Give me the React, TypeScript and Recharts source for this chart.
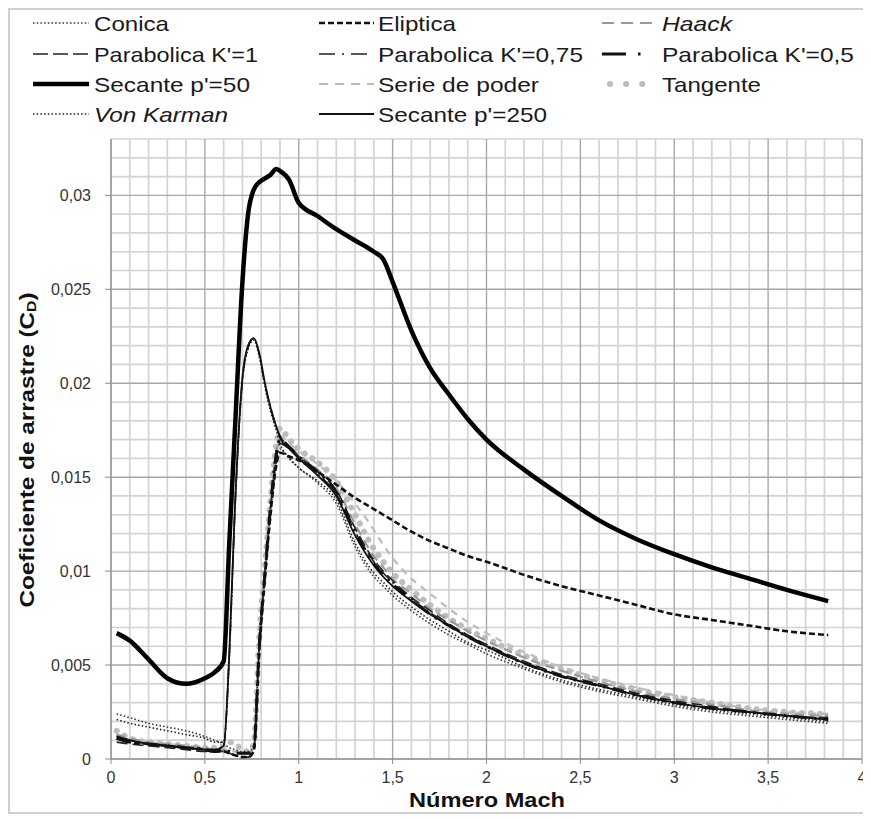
import React from "react";
import { CartesianGrid, Line, LineChart, XAxis, YAxis } from "recharts";

// Mach numbers shared by every series
const mach = [
  0.03, 0.1, 0.2, 0.3, 0.4, 0.5, 0.55, 0.6, 0.63, 0.66, 0.7, 0.73, 0.76, 0.79,
  0.82, 0.85, 0.88, 0.9, 0.95, 1.0, 1.1, 1.2, 1.3, 1.4, 1.45, 1.5, 1.6, 1.7,
  1.8, 1.9, 2.0, 2.2, 2.4, 2.6, 2.8, 3.0, 3.2, 3.4, 3.6, 3.82,
];

const conica = [
  0.0024, 0.0022, 0.0019, 0.0017, 0.0015, 0.0012, 0.001, 0.0008, 0.0006, 0.0005, 0.0004, 0.0004,
  0.0007, 0.006, 0.0098, 0.0132, 0.0158, 0.0165, 0.016,
  0.0155, 0.0147, 0.0136, 0.0113, 0.0097, 0.0092, 0.0087, 0.0079, 0.0072, 0.0066, 0.0061, 0.0056,
  0.0048, 0.0041, 0.0036, 0.0032, 0.0028, 0.0025, 0.0023, 0.0021, 0.0019,
];
const eliptica = [
  0.0011, 0.0009, 0.0008, 0.0007, 0.0006, 0.0005, 0.0004, 0.0004, 0.0003, 0.0002, 0.0001, 0.0001,
  0.0004, 0.0058, 0.0097, 0.0131, 0.0156, 0.0163, 0.0161,
  0.0159, 0.0153, 0.0146, 0.0139, 0.0133, 0.013, 0.0127, 0.0121, 0.0116, 0.0112, 0.0108, 0.0105,
  0.0098, 0.0092, 0.0087, 0.0082, 0.0077, 0.0074, 0.0071, 0.0068, 0.0066,
];
const haack = [
  0.0013, 0.0011, 0.0009, 0.0008, 0.0007, 0.0006, 0.0005, 0.0005, 0.0004, 0.0004, 0.0003, 0.0003,
  0.0006, 0.0062, 0.01, 0.0135, 0.0163, 0.017, 0.0166,
  0.0162, 0.0154, 0.0144, 0.0125, 0.0108, 0.0102, 0.0096, 0.0088, 0.008, 0.0074, 0.0068, 0.0063,
  0.0054, 0.0047, 0.0041, 0.0036, 0.0032, 0.0029, 0.0026, 0.0024, 0.0023,
];
const parabolica1 = [
  0.0009, 0.0008, 0.0007, 0.0006, 0.0005, 0.0004, 0.0004, 0.0004, 0.0003, 0.0002, 0.0001, 0.0001,
  0.0004, 0.006, 0.0099, 0.0134, 0.0161, 0.0168, 0.0165,
  0.0161, 0.0153, 0.0143, 0.0123, 0.0106, 0.01, 0.0095, 0.0086, 0.0079, 0.0072, 0.0066, 0.0061,
  0.0052, 0.0045, 0.004, 0.0035, 0.0031, 0.0028, 0.0025, 0.0023, 0.0022,
];
const parabolica075 = [
  0.0012, 0.001, 0.0008, 0.0007, 0.0006, 0.0005, 0.0005, 0.0007, 0.0055, 0.0133, 0.0202, 0.0219,
  0.0224, 0.0215, 0.0199, 0.0187, 0.0177, 0.0172, 0.0166,
  0.0161, 0.0152, 0.0141, 0.0121, 0.0105, 0.0099, 0.0094, 0.0085, 0.0078, 0.0071, 0.0066, 0.006,
  0.0051, 0.0044, 0.0039, 0.0034, 0.003, 0.0027, 0.0025, 0.0023, 0.0021,
];
const parabolica05 = [
  0.0011, 0.0009, 0.0008, 0.0007, 0.0006, 0.0005, 0.0004, 0.0005, 0.0004, 0.0003, 0.0003, 0.0003,
  0.0005, 0.0061, 0.0099, 0.0135, 0.0162, 0.017, 0.0166,
  0.0161, 0.0153, 0.0142, 0.0121, 0.0104, 0.0098, 0.0093, 0.0085, 0.0077, 0.0071, 0.0065, 0.006,
  0.0051, 0.0044, 0.0039, 0.0034, 0.003, 0.0027, 0.0025, 0.0023, 0.0021,
];
const secante50 = [
  0.0067, 0.0063, 0.0053, 0.0043, 0.004, 0.0043, 0.0046, 0.0052, 0.0115, 0.0175, 0.0254, 0.029,
  0.0303, 0.0307, 0.0309, 0.0311, 0.0314, 0.0313, 0.0308,
  0.0296, 0.0289, 0.0282, 0.0276, 0.027, 0.0266, 0.0254, 0.0228, 0.0208, 0.0194, 0.0181, 0.017,
  0.0154, 0.014, 0.0127, 0.0117, 0.0109, 0.0102, 0.0096, 0.009, 0.0084,
];
const serieDePoder = [
  0.0013, 0.0011, 0.0009, 0.0008, 0.0007, 0.0006, 0.0005, 0.0005, 0.0004, 0.0004, 0.0003, 0.0003,
  0.0006, 0.0063, 0.0101, 0.0136, 0.0164, 0.0172, 0.0168,
  0.0164, 0.0157, 0.0148, 0.0136, 0.0122, 0.0114, 0.0107, 0.0096, 0.0088, 0.008, 0.0073, 0.0067,
  0.0057, 0.0049, 0.0043, 0.0038, 0.0034, 0.003, 0.0027, 0.0025, 0.0024,
];
const tangente = [
  0.0015, 0.0011, 0.0009, 0.0008, 0.0007, 0.0006, 0.0006, 0.0007, 0.0009, 0.0008, 0.0005, 0.0004,
  0.0008, 0.0066, 0.0103, 0.0138, 0.0167, 0.0176, 0.017,
  0.0165, 0.0158, 0.0148, 0.013, 0.0112, 0.0105, 0.0099, 0.009, 0.0082, 0.0075, 0.0069, 0.0064,
  0.0055, 0.0048, 0.0042, 0.0037, 0.0033, 0.003, 0.0027, 0.0025, 0.0024,
];
const vonKarman = [
  0.0021, 0.0019, 0.0017, 0.0015, 0.0013, 0.0011, 0.0009, 0.0009, 0.0054, 0.0132, 0.0201, 0.0218,
  0.0223, 0.0214, 0.0198, 0.0185, 0.0175, 0.0168, 0.016,
  0.0155, 0.0148, 0.0138, 0.0115, 0.0099, 0.0094, 0.0089, 0.0081, 0.0074, 0.0068, 0.0062, 0.0058,
  0.0049, 0.0042, 0.0037, 0.0033, 0.0029, 0.0026, 0.0024, 0.0022, 0.002,
];
const secante250 = [
  0.0012, 0.001, 0.0008, 0.0007, 0.0006, 0.0005, 0.0005, 0.0007, 0.0056, 0.0134, 0.0203, 0.022,
  0.0224, 0.0216, 0.02, 0.0187, 0.0177, 0.0171, 0.0165,
  0.016, 0.0151, 0.014, 0.0119, 0.0103, 0.0097, 0.0092, 0.0084, 0.0077, 0.0071, 0.0065, 0.006,
  0.0051, 0.0044, 0.0039, 0.0034, 0.003, 0.0027, 0.0025, 0.0023, 0.0021,
];

const xTicks = [0, 0.5, 1, 1.5, 2, 2.5, 3, 3.5, 4];
const yTicks = [0, 0.005, 0.01, 0.015, 0.02, 0.025, 0.03];

const data = mach.map((m, i) => ({
  mach: m,
  conica: conica[i],
  eliptica: eliptica[i],
  haack: haack[i],
  parabolica1: parabolica1[i],
  parabolica075: parabolica075[i],
  parabolica05: parabolica05[i],
  secante50: secante50[i],
  serieDePoder: serieDePoder[i],
  tangente: tangente[i],
  vonKarman: vonKarman[i],
  secante250: secante250[i],
}));

type SeriesStyle = {
  key: string;
  name: string;
  color: string;
  width: number;
  dash?: string;
  legendDash?: string;
  cap?: "round" | "butt";
  italic?: boolean;
  col: number;
  row: number;
  textWidth: number;
};

// draw order: light grey first, heavy black last
const series: SeriesStyle[] = [
  { key: "serieDePoder", name: "Serie de poder", color: "#bcbcbc", width: 2.2, dash: "7 6", legendDash: "9 7", col: 1, row: 2, textWidth: 161 },
  { key: "tangente", name: "Tangente", color: "#bdbdbd", width: 6, dash: "0.1 9", legendDash: "0.1 16", cap: "round", col: 2, row: 2, textWidth: 99 },
  { key: "haack", name: "Haack", color: "#9a9a9a", width: 2.2, dash: "9 6", legendDash: "12 7", italic: true, col: 2, row: 0, textWidth: 70 },
  { key: "conica", name: "Conica", color: "#333333", width: 1.6, dash: "1.5 2.2", col: 0, row: 0, textWidth: 75 },
  { key: "vonKarman", name: "Von Karman", color: "#222222", width: 1.6, dash: "1.5 2.2", italic: true, col: 0, row: 3, textWidth: 134 },
  { key: "parabolica1", name: "Parabolica K'=1", color: "#222222", width: 1.6, dash: "11 5", legendDash: "15 5", col: 0, row: 1, textWidth: 164 },
  { key: "parabolica075", name: "Parabolica K'=0,75", color: "#222222", width: 1.6, dash: "12 4 2 4", legendDash: "16 7 2 7", col: 1, row: 1, textWidth: 205 },
  { key: "parabolica05", name: "Parabolica K'=0,5", color: "#111111", width: 3, dash: "14 7 2.5 7", legendDash: "24 12 2.5 30", col: 2, row: 1, textWidth: 192 },
  { key: "secante250", name: "Secante p'=250", color: "#111111", width: 1.8, col: 1, row: 3, textWidth: 169 },
  { key: "eliptica", name: "Eliptica", color: "#111111", width: 2.6, dash: "6 3", col: 1, row: 0, textWidth: 78 },
  { key: "secante50", name: "Secante p'=50", color: "#000000", width: 4.5, col: 0, row: 2, textWidth: 156 },
];

const minorX: number[] = [];
for (let i = 1; i < 40; i++) if (i % 5 !== 0) minorX.push(i / 10);
const majorX = xTicks;
const minorY: number[] = [];
for (let i = 1; i <= 33; i++) if (i % 5 !== 0) minorY.push(i / 1000);
const majorY = yTicks;

const FONT = "'Liberation Sans', Arial, Helvetica, sans-serif";

const legendCols = [
  { lineX1: 25, lineX2: 81, textX: 86 },
  { lineX1: 311, lineX2: 366, textX: 370 },
  { lineX1: 594, lineX2: 648, textX: 654 },
];
const legendRows = [15, 46, 76, 106];

const fmt = (v: number) => (v === 0 ? "0" : String(v).replace(".", ","));

export default function App() {
  return (
    <div style={{ position: "relative", width: 861, height: 806, fontFamily: FONT, background: "#fff" }}>
      <style>{"html,body{overflow:hidden}"}</style>
      <LineChart
        width={863}
        height={806}
        data={data}
        margin={{ top: 131, right: 9, left: 43, bottom: 5 }}
        style={{ fontFamily: FONT }}
      >
        <CartesianGrid
          stroke="#d3d3d3"
          strokeWidth={1.7}
          verticalValues={minorX}
          horizontalValues={minorY}
        />
        <CartesianGrid
          stroke="#a8a8a8"
          strokeWidth={1.4}
          verticalValues={majorX}
          horizontalValues={majorY}
        />
        <XAxis
          dataKey="mach"
          type="number"
          domain={[0, 4]}
          ticks={xTicks}
          tickFormatter={fmt}
          height={50}
          tickSize={5}
          tickMargin={8}
          stroke="#8a8a8a"
          tick={{ fontSize: 16, fill: "#333" }}
          interval={0}
        />
        <YAxis
          type="number"
          domain={[0, 0.033]}
          ticks={yTicks}
          tickFormatter={fmt}
          width={60}
          tickSize={6}
          tickMargin={14}
          stroke="#8a8a8a"
          tick={{ fontSize: 16, fill: "#333" }}
          interval={0}
        />
        {series.map((s) => (
          <Line
            key={s.key}
            dataKey={s.key}
            name={s.name}
            type="monotone"
            stroke={s.color}
            strokeWidth={s.width}
            strokeDasharray={s.dash}
            strokeLinecap={s.cap ?? "butt"}
            dot={false}
            activeDot={false}
            isAnimationActive={false}
          />
        ))}
      </LineChart>

      <svg
        width={861}
        height={806}
        style={{ position: "absolute", left: 0, top: 0, pointerEvents: "none", fontFamily: FONT }}
      >
        {series.map((s) => {
          const c = legendCols[s.col];
          const y = legendRows[s.row];
          const isDots = s.cap === "round";
          return (
            <g key={s.key}>
              <line
                x1={isDots ? c.lineX1 + 8 : c.lineX1}
                x2={c.lineX2}
                y1={y}
                y2={y}
                stroke={s.color}
                strokeWidth={s.width}
                strokeDasharray={s.legendDash ?? s.dash}
                strokeLinecap={s.cap ?? "butt"}
              />
              <text
                x={c.textX}
                y={y + 7.5}
                fontSize={21}
                fill="#1a1a1a"
                fontStyle={s.italic ? "italic" : "normal"}
                textLength={s.textWidth}
                lengthAdjust="spacingAndGlyphs"
              >
                {s.name}
              </text>
            </g>
          );
        })}
        <text
          x={479}
          y={799}
          textAnchor="middle"
          fontSize={21}
          fontWeight="bold"
          fill="#111"
          textLength={156}
          lengthAdjust="spacingAndGlyphs"
        >
          Número Mach
        </text>
        <text
          transform="translate(26,442) rotate(-90)"
          textAnchor="middle"
          fontSize={20}
          fontWeight="bold"
          fill="#111"
          textLength={315}
          lengthAdjust="spacingAndGlyphs"
        >
          Coeficiente de arrastre (C<tspan fontSize={13} dy={2}>D</tspan>
          <tspan dy={-2}>)</tspan>
        </text>
      </svg>
      <div
        style={{
          position: "absolute",
          inset: 0,
          border: "2px solid #cfcfcf",
          boxSizing: "border-box",
          pointerEvents: "none",
        }}
      />
    </div>
  );
}
